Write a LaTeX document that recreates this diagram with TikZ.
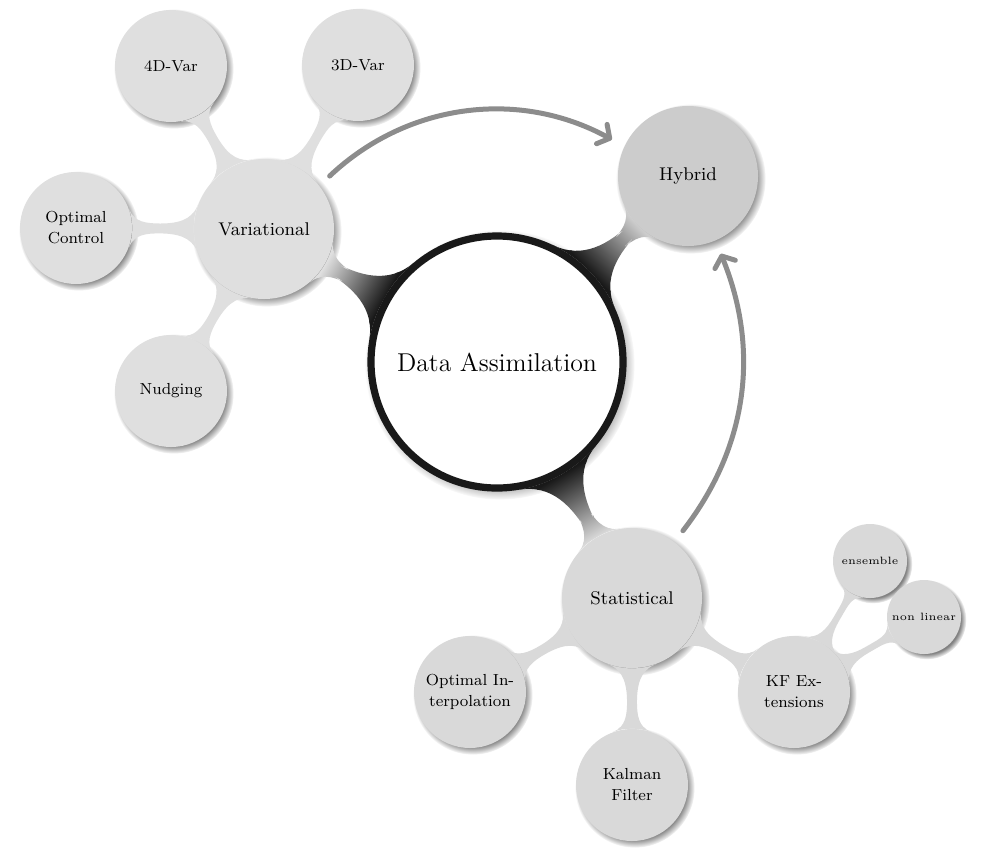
\documentclass[tikz,border=0pt]{standalone}
\usetikzlibrary{mindmap,shadows,arrows.meta,decorations}
\begin{document}
\begin{tikzpicture}[x=0.5pt,y=-0.5pt,
  cpt/.style={circle, circular drop shadow={shadow scale=1.07}, align=center, inner sep=1pt, text=black},
  rootc/.style={cpt, fill=white, draw=black!90, line width=3.6pt, minimum size=126pt, font=\fontsize{12.9}{15}\selectfont},
  lvone/.style={cpt, minimum size=70pt, font=\fontsize{9.2}{11}\selectfont},
  lvtwo/.style={cpt, minimum size=56pt, font=\fontsize{8}{10.5}\selectfont},
  lvthree/.style={cpt, minimum size=37pt, font=\fontsize{5.3}{6.5}\selectfont},
  barone/.style={line width=12pt},
  bartwo/.style={line width=8pt},
  barthree/.style={line width=6pt},
  relarrow/.style={draw=gray!90, line width=2.5pt, line cap=round,
    -{Straight Barb[length=4.5pt,width=11pt,round]}, shorten <=7pt, shorten >=7pt}
]
\useasboundingbox (0,0) rectangle (989,858);
\colorlet{cvar}{gray!25}
\colorlet{cstat}{gray!30}
\colorlet{chyb}{gray!40}

% nodes
\node[rootc] (root) at (497,362) {Data Assimilation};
\node[lvone, fill=cvar] (var) at (264,229) {Variational};
\node[lvone, fill=chyb] (hyb) at (688,176) {Hybrid};
\node[lvone, fill=cstat] (stat) at (632,598) {Statistical};

\node[lvtwo, fill=cvar] (d4) at (171,66) {4D-Var};
\node[lvtwo, fill=cvar] (d3) at (358,65) {3D-Var};
\node[lvtwo, fill=cvar] (oc) at (76,228) {Optimal\\Control};
\node[lvtwo, fill=cvar] (nud) at (171,391) {Nudging};

\node[lvtwo, fill=cstat] (oi) at (470,692) {Optimal In-\\terpolation};
\node[lvtwo, fill=cstat] (kf) at (632,785) {Kalman\\Filter};
\node[lvtwo, fill=cstat] (kfe) at (794,692) {KF Ex-\\tensions};

\node[lvthree, fill=cstat] (ens) at (870,561) {ensemble};
\node[lvthree, fill=cstat] (nl) at (924,617) {non linear};

% connection bars
\path[barone] (root) to[circle connection bar switch color=from (black!90) to (cvar)] (var);
\path[barone] (root) to[circle connection bar switch color=from (black!90) to (chyb)] (hyb);
\path[barone] (root) to[circle connection bar switch color=from (black!90) to (cstat)] (stat);

\path[bartwo] (var) to[circle connection bar switch color=from (cvar) to (cvar)] (d4);
\path[bartwo] (var) to[circle connection bar switch color=from (cvar) to (cvar)] (d3);
\path[bartwo] (var) to[circle connection bar switch color=from (cvar) to (cvar)] (oc);
\path[bartwo] (var) to[circle connection bar switch color=from (cvar) to (cvar)] (nud);

\path[bartwo] (stat) to[circle connection bar switch color=from (cstat) to (cstat)] (oi);
\path[bartwo] (stat) to[circle connection bar switch color=from (cstat) to (cstat)] (kf);
\path[bartwo] (stat) to[circle connection bar switch color=from (cstat) to (cstat)] (kfe);

\path[barthree] (kfe) to[circle connection bar switch color=from (cstat) to (cstat)] (ens);
\path[barthree] (kfe) to[circle connection bar switch color=from (cstat) to (cstat)] (nl);

% relation arrows
\draw[relarrow] (var.38) to[bend left=36] (hyb.155);
\draw[relarrow] (stat.53) to[bend right=30] (hyb.-67);
\end{tikzpicture}
\end{document}
